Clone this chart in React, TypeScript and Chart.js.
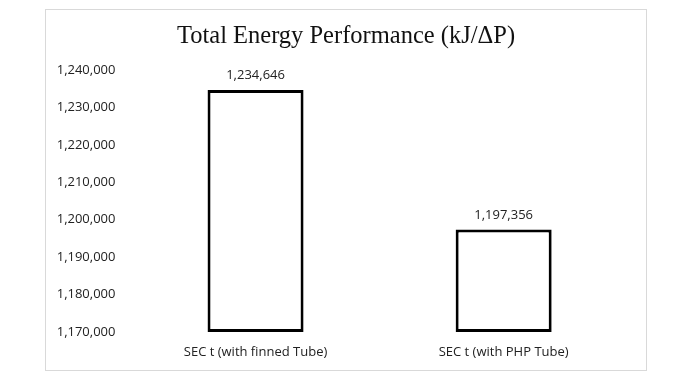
import { useEffect, useRef } from 'react';
import { Chart, registerables } from 'chart.js';

Chart.register(...registerables);

const categories: string[] = ['SEC t (with finned Tube)', 'SEC t (with PHP Tube)'];
const values: number[] = [1234646, 1197356];
const yMin = 1170000;
const yMax = 1240000;
const yStep = 10000;
const chartTitle = 'Total Energy Performance (kJ/\u0394P)';

const TEXT_COLOR = '#222222';
const LABEL_FONT = '"Open Sans", "Noto Sans", sans-serif';

const valueLabels = {
  id: 'valueLabels',
  afterDatasetsDraw(chart: any) {
    const ctx = chart.ctx;
    const meta = chart.getDatasetMeta(0);
    ctx.save();
    ctx.font = `13px ${LABEL_FONT}`;
    ctx.fillStyle = TEXT_COLOR;
    ctx.textAlign = 'center';
    ctx.textBaseline = 'alphabetic';
    meta.data.forEach((bar: any, i: number) => {
      ctx.fillText(values[i].toLocaleString('en-US'), bar.x, bar.y - 11);
    });
    ctx.restore();
  },
};

export default function App() {
  const canvasRef = useRef<HTMLCanvasElement | null>(null);

  useEffect(() => {
    if (!canvasRef.current) return;
    const chart = new Chart(canvasRef.current, {
      type: 'bar',
      data: {
        labels: categories,
        datasets: [
          {
            data: values,
            yAxisID: 'y',
            base: yMin,
            backgroundColor: '#ffffff',
            borderColor: '#000000',
            borderWidth: 3,
            borderSkipped: false,
            barPercentage: 0.387,
            categoryPercentage: 1,
          },
        ],
      },
      options: {
        animation: false,
        responsive: false,
        devicePixelRatio: 1,
        layout: { padding: { left: 10.7, right: 10.7, top: 0, bottom: 0 } },
        plugins: {
          legend: { display: false },
          tooltip: { enabled: false },
          title: {
            display: true,
            text: chartTitle,
            color: '#111111',
            font: { family: '"Liberation Serif", "Times New Roman", serif', size: 24.5, weight: 'normal', lineHeight: 1.2 },
            padding: { top: 12.3, bottom: 18.3 },
          },
        },
        scales: {
          x: {
            grid: { display: false, drawTicks: false },
            border: { display: false },
            afterFit: (scale: any) => {
              scale.height = 38;
            },
            ticks: {
              color: TEXT_COLOR,
              padding: 12,
              maxRotation: 0,
              font: { family: LABEL_FONT, size: 13, lineHeight: 1.2 },
            },
          },
          y: {
            position: 'left',
            min: yMin,
            max: yMax,
            grid: { display: false, drawTicks: false },
            border: { display: false },
            afterFit: (scale: any) => {
              scale.width = 74.8;
            },
            ticks: {
              stepSize: yStep,
              color: TEXT_COLOR,
              crossAlign: 'far',
              font: { family: LABEL_FONT, size: 13, lineHeight: 1.2 },
            },
          },
          yRight: {
            type: 'linear',
            position: 'right',
            display: true,
            grid: { display: false, drawTicks: false },
            border: { display: false },
            ticks: { display: false },
            afterFit: (scale: any) => {
              scale.width = 7.6;
            },
          },
        },
      },
      plugins: [valueLabels],
    });
    return () => chart.destroy();
  }, []);

  return (
    <div
      style={{
        position: 'absolute',
        left: 45,
        top: 9,
        width: 600,
        height: 360,
        border: '1px solid #d9d9d9',
        background: '#ffffff',
      }}
    >
      <canvas ref={canvasRef} width={600} height={360} style={{ display: 'block', width: 600, height: 360 }} />
    </div>
  );
}
